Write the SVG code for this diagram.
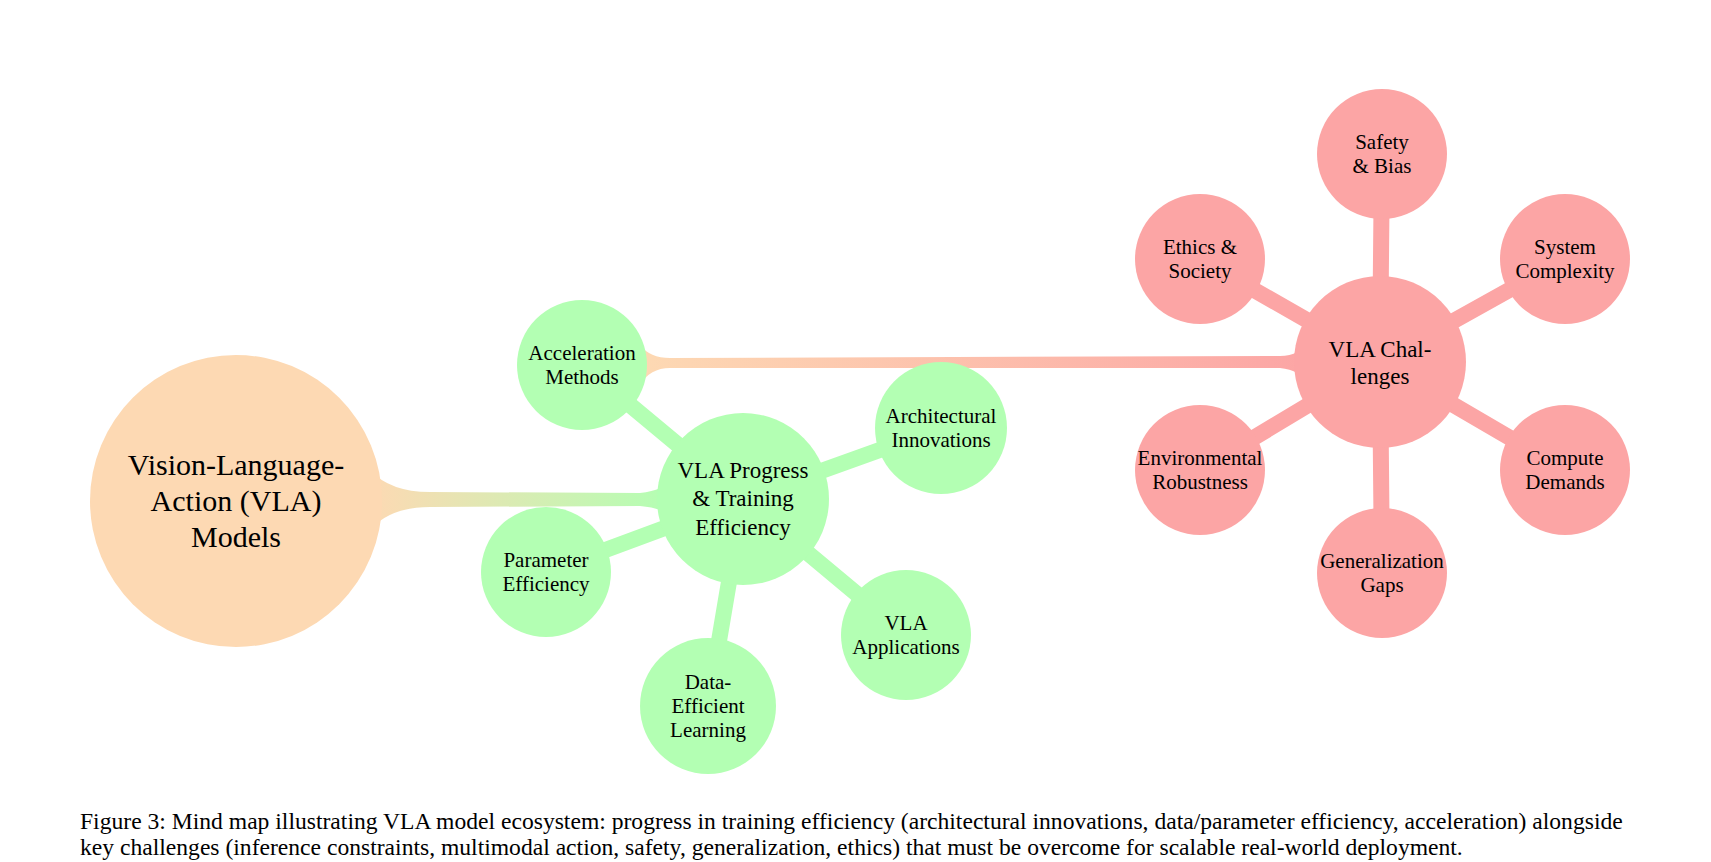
<svg xmlns="http://www.w3.org/2000/svg" width="1711" height="862" viewBox="0 0 1711 862">
<style>
text{font-family:"Liberation Serif","Times New Roman",serif;fill:#000;text-anchor:middle;dominant-baseline:central}
.c{font-size:21px}.m{font-size:23px}.b{font-size:30px}
.g{fill:#b3ffb3}.r{fill:#fca5a5}.o{fill:#fdd9b3}
.lg{stroke:#b3ffb3;stroke-width:16;stroke-linecap:round}
.lr{stroke:#fca5a5;stroke-width:16;stroke-linecap:round}
.cap{font-size:23.6px;text-anchor:start;dominant-baseline:auto}
</style>
<defs>
<linearGradient id="og" x1="0" x2="1"><stop offset="0" stop-color="#fdd9b3"/><stop offset="1" stop-color="#b3ffb3"/></linearGradient>
<linearGradient id="or" x1="0" x2="1"><stop offset="0" stop-color="#fdd9b3"/><stop offset="1" stop-color="#fca5a5"/></linearGradient>
</defs>
<rect width="1711" height="862" fill="#fff"/>
<g id="connectors">
<path d="M370,470 Q390,492 430,492 L640,493 Q665,490 670,480 L670,518 Q665,508 640,506 L430,507 Q390,507 370,530 Z" fill="url(#og)"/>
<path d="M640,345 Q650,358 670,358 L1280,356 Q1300,356 1310,340 L1310,385 Q1300,370 1280,368 L670,368 Q650,368 640,385 Z" fill="url(#or)"/>
<line class="lg" x1="743" y1="499" x2="582" y2="365"/>
<line class="lg" x1="743" y1="499" x2="941" y2="428"/>
<line class="lg" x1="743" y1="499" x2="546" y2="572"/>
<line class="lg" x1="743" y1="499" x2="708" y2="706"/>
<line class="lg" x1="743" y1="499" x2="906" y2="635"/>
<line class="lr" x1="1380" y1="362" x2="1382" y2="154"/>
<line class="lr" x1="1380" y1="362" x2="1200" y2="259"/>
<line class="lr" x1="1380" y1="362" x2="1565" y2="259"/>
<line class="lr" x1="1380" y1="362" x2="1200" y2="470"/>
<line class="lr" x1="1380" y1="362" x2="1565" y2="470"/>
<line class="lr" x1="1380" y1="362" x2="1382" y2="573"/>
</g>
<g id="vla"><circle class="o" cx="236" cy="501" r="146"/><text class="b" x="236" y="464">Vision-Language-</text><text class="b" x="236" y="500">Action (VLA)</text><text class="b" x="236" y="536">Models</text></g>
<g id="progress"><circle class="g" cx="743" cy="499" r="86"/><text class="m" x="743" y="470">VLA Progress</text><text class="m" x="743" y="498">&amp; Training</text><text class="m" x="743" y="527">Efficiency</text></g>
<g id="accel"><circle class="g" cx="582" cy="365" r="65"/><text class="c" x="582" y="353">Acceleration</text><text class="c" x="582" y="377">Methods</text></g>
<g id="arch"><circle class="g" cx="941" cy="428" r="66"/><text class="c" x="941" y="416">Architectural</text><text class="c" x="941" y="440">Innovations</text></g>
<g id="param"><circle class="g" cx="546" cy="572" r="65"/><text class="c" x="546" y="560">Parameter</text><text class="c" x="546" y="584">Efficiency</text></g>
<g id="data"><circle class="g" cx="708" cy="706" r="68"/><text class="c" x="708" y="682">Data-</text><text class="c" x="708" y="706">Efficient</text><text class="c" x="708" y="730">Learning</text></g>
<g id="apps"><circle class="g" cx="906" cy="635" r="65"/><text class="c" x="906" y="623">VLA</text><text class="c" x="906" y="647">Applications</text></g>
<g id="challenges"><circle class="r" cx="1380" cy="362" r="86"/><text class="m" x="1380" y="349">VLA Chal-</text><text class="m" x="1380" y="376">lenges</text></g>
<g id="safety"><circle class="r" cx="1382" cy="154" r="65"/><text class="c" x="1382" y="142">Safety</text><text class="c" x="1382" y="166">&amp; Bias</text></g>
<g id="ethics"><circle class="r" cx="1200" cy="259" r="65"/><text class="c" x="1200" y="247">Ethics &amp;</text><text class="c" x="1200" y="271">Society</text></g>
<g id="system"><circle class="r" cx="1565" cy="259" r="65"/><text class="c" x="1565" y="247">System</text><text class="c" x="1565" y="271">Complexity</text></g>
<g id="env"><circle class="r" cx="1200" cy="470" r="65"/><text class="c" x="1200" y="458">Environmental</text><text class="c" x="1200" y="482">Robustness</text></g>
<g id="compute"><circle class="r" cx="1565" cy="470" r="65"/><text class="c" x="1565" y="458">Compute</text><text class="c" x="1565" y="482">Demands</text></g>
<g id="gen"><circle class="r" cx="1382" cy="573" r="65"/><text class="c" x="1382" y="561">Generalization</text><text class="c" x="1382" y="585">Gaps</text></g>
<text class="cap" x="80" y="829">Figure 3: Mind map illustrating VLA model ecosystem: progress in training efficiency (architectural innovations, data/parameter efficiency, acceleration) alongside</text>
<text class="cap" x="80" y="855">key challenges (inference constraints, multimodal action, safety, generalization, ethics) that must be overcome for scalable real-world deployment.</text>
</svg>
